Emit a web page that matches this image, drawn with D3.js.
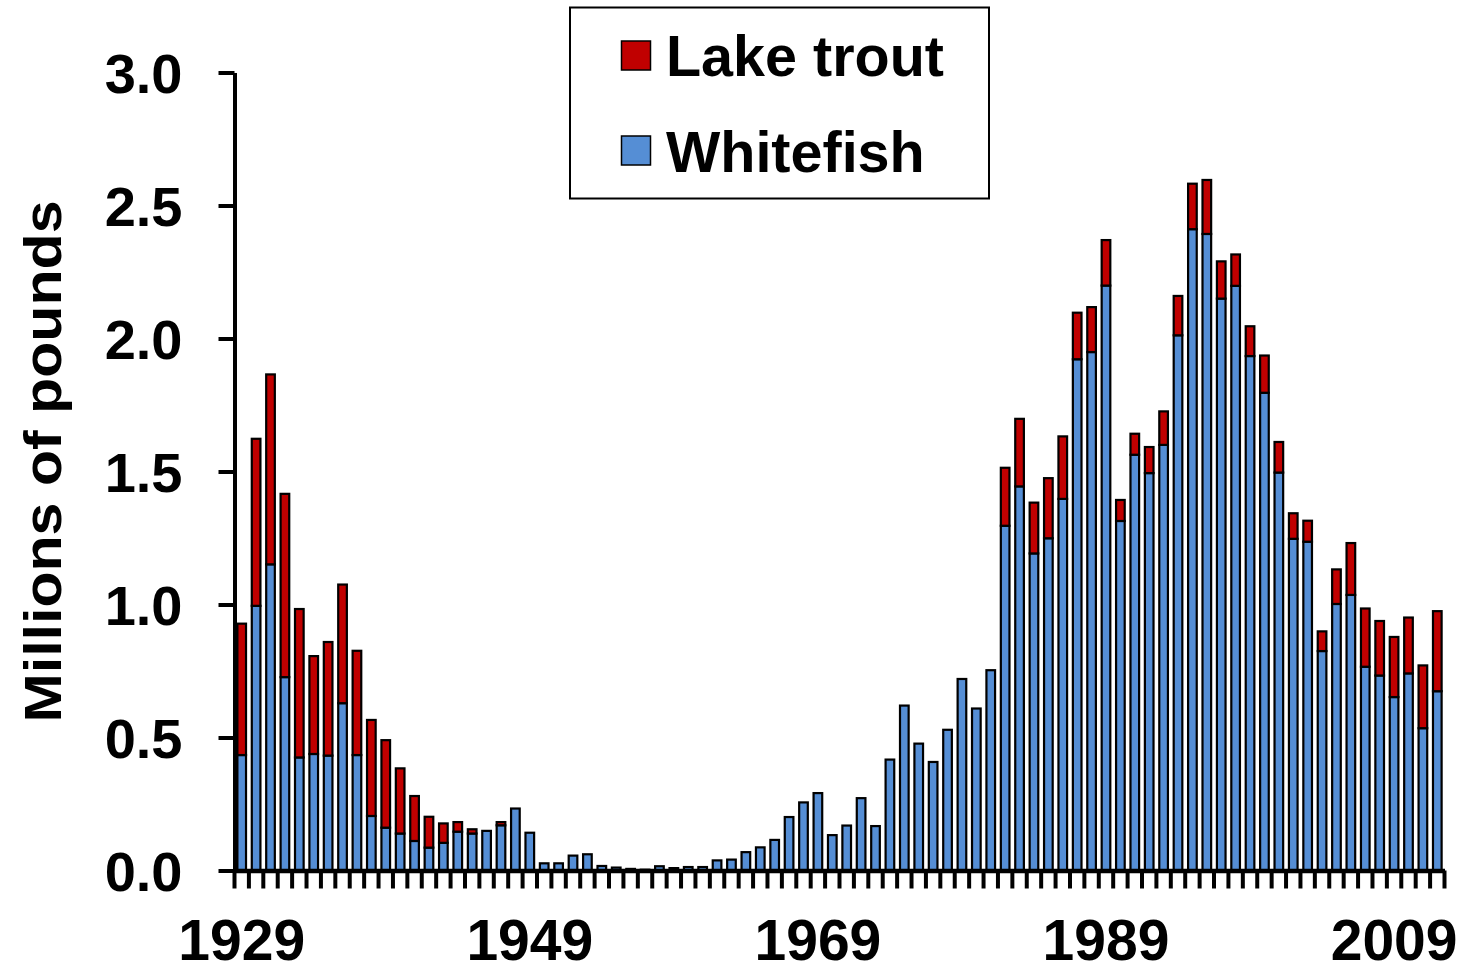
<!DOCTYPE html>
<html>
<head>
<meta charset="utf-8">
<script src="https://cdn.jsdelivr.net/npm/d3@7"></script>
<style>
  html, body { margin: 0; padding: 0; background: #fff; }
  svg { display: block; }
  text { font-family: "Liberation Sans", Arial, sans-serif; font-weight: bold; fill: #000; }
</style>
</head>
<body>
<svg id="chart" width="1463" height="966"></svg>
<script>
// Commercial harvest, millions of pounds, 1929–2012
const years = d3.range(1929, 2013);

const whitefish = [
  0.434, 0.995, 1.151, 0.727, 0.425, 0.438, 0.432, 0.629, 0.434, 0.205,
  0.161, 0.139, 0.111, 0.086, 0.104, 0.146, 0.139, 0.149, 0.170, 0.233,
  0.142, 0.027, 0.027, 0.056, 0.061, 0.017, 0.011, 0.006, 0.003, 0.016,
  0.009, 0.013, 0.013, 0.038, 0.041, 0.069, 0.087, 0.115, 0.201, 0.256,
  0.291, 0.133, 0.169, 0.272, 0.167, 0.417, 0.620, 0.477, 0.408, 0.529,
  0.720, 0.609, 0.753, 1.296, 1.444, 1.192, 1.249, 1.397, 1.922, 1.949,
  2.199, 1.314, 1.563, 1.494, 1.600, 2.012, 2.411, 2.393, 2.150, 2.198,
  1.934, 1.796, 1.496, 1.247, 1.236, 0.825, 1.002, 1.036, 0.766, 0.733,
  0.652, 0.741, 0.535, 0.674
];

const lakeTrout = [
  0.494, 0.628, 0.714, 0.689, 0.558, 0.368, 0.427, 0.446, 0.392, 0.361,
  0.329, 0.245, 0.169, 0.116, 0.073, 0.036, 0.016, 0, 0.012, 0,
  0, 0, 0, 0, 0, 0, 0, 0, 0, 0,
  0, 0, 0, 0, 0, 0, 0, 0, 0, 0,
  0, 0, 0, 0, 0, 0, 0, 0, 0, 0,
  0, 0, 0, 0.218, 0.254, 0.191, 0.226, 0.235, 0.175, 0.169,
  0.171, 0.079, 0.079, 0.098, 0.126, 0.148, 0.171, 0.203, 0.140, 0.118,
  0.112, 0.140, 0.115, 0.096, 0.079, 0.074, 0.130, 0.195, 0.219, 0.205,
  0.226, 0.210, 0.236, 0.301
];

const yTicks = [0, 0.5, 1.0, 1.5, 2.0, 2.5, 3.0];
const xLabelYears = [1929, 1949, 1969, 1989, 2009];

const seriesColors = { "Whitefish": "#558ED5", "Lake trout": "#C00000" };

const svg = d3.select("#chart");
const plotLeft = 234.5, plotRight = 1444.5, plotTop = 72.5, plotBottom = 870.5;

// Category slots (one per year) and the narrower bars inside them
const xCat = d3.scaleBand().domain(years).range([plotLeft, plotRight]).padding(0);
const xBar = d3.scaleBand().domain(years).range([plotLeft, plotRight])
  .paddingInner(0.4).paddingOuter(0.2);
const y = d3.scaleLinear().domain([0, 3]).range([plotBottom, plotTop]);

// Stacked layout: whitefish on the bottom, lake trout on top
const rows = years.map((yr, i) => ({ year: yr, "Whitefish": whitefish[i], "Lake trout": lakeTrout[i] }));
const stack = d3.stack().keys(["Whitefish", "Lake trout"]);
const layers = stack(rows);

const barsG = svg.append("g");
layers.forEach(layer => {
  barsG.append("g")
    .selectAll("rect")
    .data(layer.filter(d => d[1] - d[0] > 0))
    .join("rect")
    .attr("x", d => xBar(d.data.year))
    .attr("width", xBar.bandwidth())
    .attr("y", d => y(d[1]))
    .attr("height", d => y(d[0]) - y(d[1]))
    .attr("fill", seriesColors[layer.key])
    .attr("stroke", "#000")
    .attr("stroke-width", 2.2);
});

// Y axis
const yAxis = svg.append("g")
  .attr("transform", `translate(${plotLeft},0)`)
  .call(d3.axisLeft(y).tickValues(yTicks).tickFormat(d3.format(".1f"))
    .tickSize(16).tickSizeOuter(0).tickPadding(36));
yAxis.select(".domain").attr("stroke", "#000").attr("stroke-width", 4);
yAxis.selectAll(".tick line").attr("stroke", "#000").attr("stroke-width", 4);
yAxis.selectAll(".tick text")
  .attr("font-size", 56)
  .attr("font-family", "'Liberation Sans', Arial, sans-serif")
  .attr("font-weight", "bold")
  .attr("dy", "0.36em");

// Tick marks between the year categories
const boundaries = years.map(yr => xCat(yr)).concat([xCat(years[years.length - 1]) + xCat.step()]);
svg.append("g")
  .selectAll("line")
  .data(boundaries)
  .join("line")
  .attr("x1", d => d).attr("x2", d => d)
  .attr("y1", plotBottom).attr("y2", plotBottom + 18)
  .attr("stroke", "#000")
  .attr("stroke-width", 4);

// X axis line and year labels
const xAxis = svg.append("g")
  .attr("transform", `translate(0,${plotBottom})`)
  .call(d3.axisBottom(xCat).tickValues(xLabelYears).tickSize(0).tickSizeOuter(0).tickPadding(49));
xAxis.select(".domain").attr("stroke", "#000").attr("stroke-width", 4.5);
xAxis.selectAll(".tick text")
  .attr("font-size", 57)
  .attr("font-family", "'Liberation Sans', Arial, sans-serif")
  .attr("font-weight", "bold");

// Y axis title
svg.append("text")
  .attr("transform", "translate(61,461.5) rotate(-90)")
  .attr("text-anchor", "middle")
  .attr("font-size", 51)
  .attr("textLength", 522)
  .attr("lengthAdjust", "spacingAndGlyphs")
  .text("Millions of pounds");

// Legend
const legend = svg.append("g");
legend.append("rect")
  .attr("x", 570).attr("y", 7.5).attr("width", 419).attr("height", 191)
  .attr("fill", "#fff").attr("stroke", "#000").attr("stroke-width", 2);
const legendRows = [
  { name: "Lake trout", sy: 41, ty: 76 },
  { name: "Whitefish", sy: 136, ty: 172 }
];
legendRows.forEach(r => {
  legend.append("rect")
    .attr("x", 621.5).attr("y", r.sy).attr("width", 29).attr("height", 29)
    .attr("fill", seriesColors[r.name]).attr("stroke", "#000").attr("stroke-width", 1.5);
  legend.append("text")
    .attr("x", 666).attr("y", r.ty)
    .attr("font-size", 57.5)
    .text(r.name);
});
</script>
</body>
</html>
